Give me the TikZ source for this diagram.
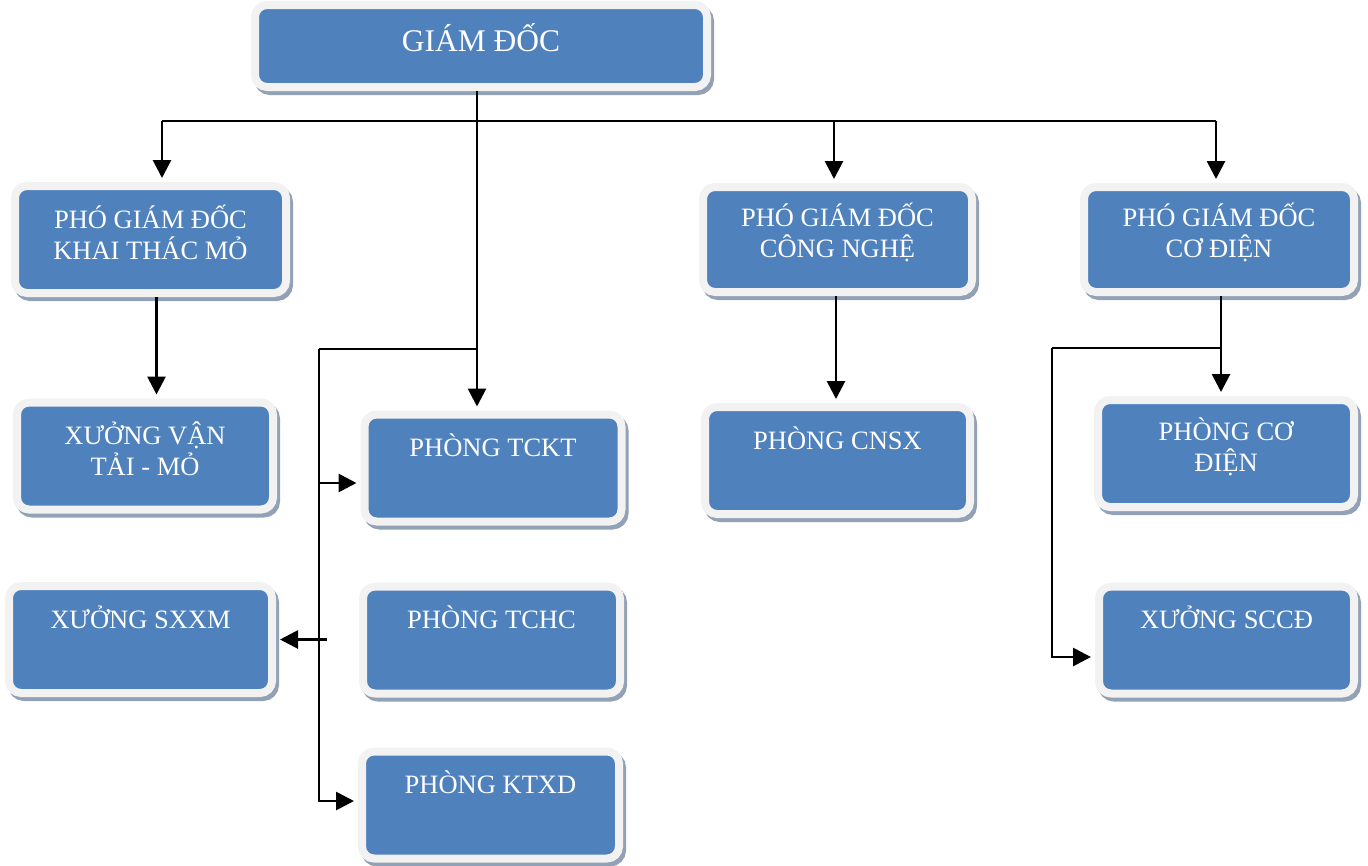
\documentclass[tikz,border=0pt]{standalone}
\usepackage{fontspec}
\setmainfont{Liberation Serif}
\usepackage{tikz}
\usetikzlibrary{arrows.meta,positioning,calc,shadows}

\definecolor{boxblue}{RGB}{79,129,189}
\definecolor{boxrim}{RGB}{242,242,242}
\definecolor{boxshade}{RGB}{146,161,181}

\begin{document}
\begin{tikzpicture}[
    x=1pt, y=-1pt,
    unit/.style={draw=boxrim, line width=8pt, fill=boxblue, rounded corners=12pt,
      text=white, align=center, minimum width=257pt, minimum height=107pt,
      font=\fontsize{26.5}{31}\selectfont,
      drop shadow={shadow xshift=3pt, shadow yshift=-4pt, opacity=1,
        fill=boxshade, draw=boxshade, line width=8pt}},
    oneline/.style={text height=20pt, text depth=43pt},
    twoline/.style={text height=40pt},
    link/.style={line width=2pt, color=black},
    arr/.style={-{Triangle[length=18pt, width=18pt]}, line width=2.8pt, color=black, shorten >=4pt},
  ]
  \useasboundingbox (0, 0) rectangle (1368, 865);

  % Director
  \node[unit, minimum width=452pt, minimum height=82pt, font=\fontsize{31.5}{36}\selectfont,
        text height=20pt, text depth=10pt] (gd) at (481, 46) {GIÁM ĐỐC};

  % Deputy directors
  \node[unit, twoline, minimum width=271pt] (pkt) at (150.5, 239.5) {PHÓ GIÁM ĐỐC\\KHAI THÁC MỎ};
  \node[unit, twoline, minimum width=269pt, minimum height=105pt] (pcn) at (837.5, 239.5) {PHÓ GIÁM ĐỐC\\CÔNG NGHỆ};
  \node[unit, twoline, minimum width=270pt, minimum height=105pt] (pcd) at (1219, 239.5) {PHÓ GIÁM ĐỐC\\CƠ ĐIỆN};

  % Departments and workshops
  \node[unit, twoline, minimum width=256pt] (xvt) at (145, 456) {XƯỞNG VẬN\\TẢI - MỎ};
  \node[unit, oneline, minimum width=263pt] (sxxm) at (140.5, 639.5) {XƯỞNG SXXM};
  \node[unit, oneline] (tckt) at (493, 468)   {PHÒNG TCKT};
  \node[unit, oneline] (tchc) at (491.5, 640) {PHÒNG TCHC};
  \node[unit, oneline] (ktxd) at (490.5, 805) {PHÒNG KTXD};
  \node[unit, oneline, minimum width=265pt] (cnsx) at (837.5, 460.5) {PHÒNG CNSX};
  \node[unit, twoline, minimum width=256pt] (pcdien) at (1226, 453.5) {PHÒNG CƠ\\ĐIỆN};
  \node[unit, oneline, minimum width=255pt] (sccd) at (1226.5, 640) {XƯỞNG SCCĐ};

  % Bends of the connectors
  \coordinate (busL)  at (162, 121);
  \coordinate (busR)  at (1216, 121);
  \coordinate (trunk) at (477, 349);
  \coordinate (spine) at (319, 349);
  \coordinate (fork)  at (1221, 348);
  \coordinate (side)  at (1052, 348);

  % Edges
  \draw[link] (busL) -- (busR);
  \draw[arr] (busL) -- (busL |- pkt.north);
  \draw[arr] ([xshift=-3.5pt]pcn.north |- busL) -- ([xshift=-3.5pt]pcn.north);
  \draw[arr] (busR) -- (busR |- pcd.north);

  \draw[arr] (gd.south -| trunk) -- (tckt.north -| trunk);
  \draw[link] (trunk) -- (spine);
  \draw[arr] (spine) |- ([yshift=4pt]ktxd.west);
  \draw[arr] ([yshift=-15pt]tckt.west -| spine) -- ([yshift=-15pt]tckt.west);
  \draw[arr] ([xshift=8pt]spine |- sxxm.east) -- (sxxm.east);

  \draw[arr] ([xshift=6pt]pkt.south) -- ([xshift=6pt]pkt.south |- xvt.north);
  \draw[arr] ([xshift=-1.5pt]pcn.south) -- ([xshift=-1.5pt]pcn.south |- cnsx.north);

  \draw[arr] (pcd.south -| fork) -- (pcdien.north -| fork);
  \draw[link] (fork) -- (side);
  \draw[arr] (side) |- ([yshift=-17pt]sccd.west);
\end{tikzpicture}
\end{document}
